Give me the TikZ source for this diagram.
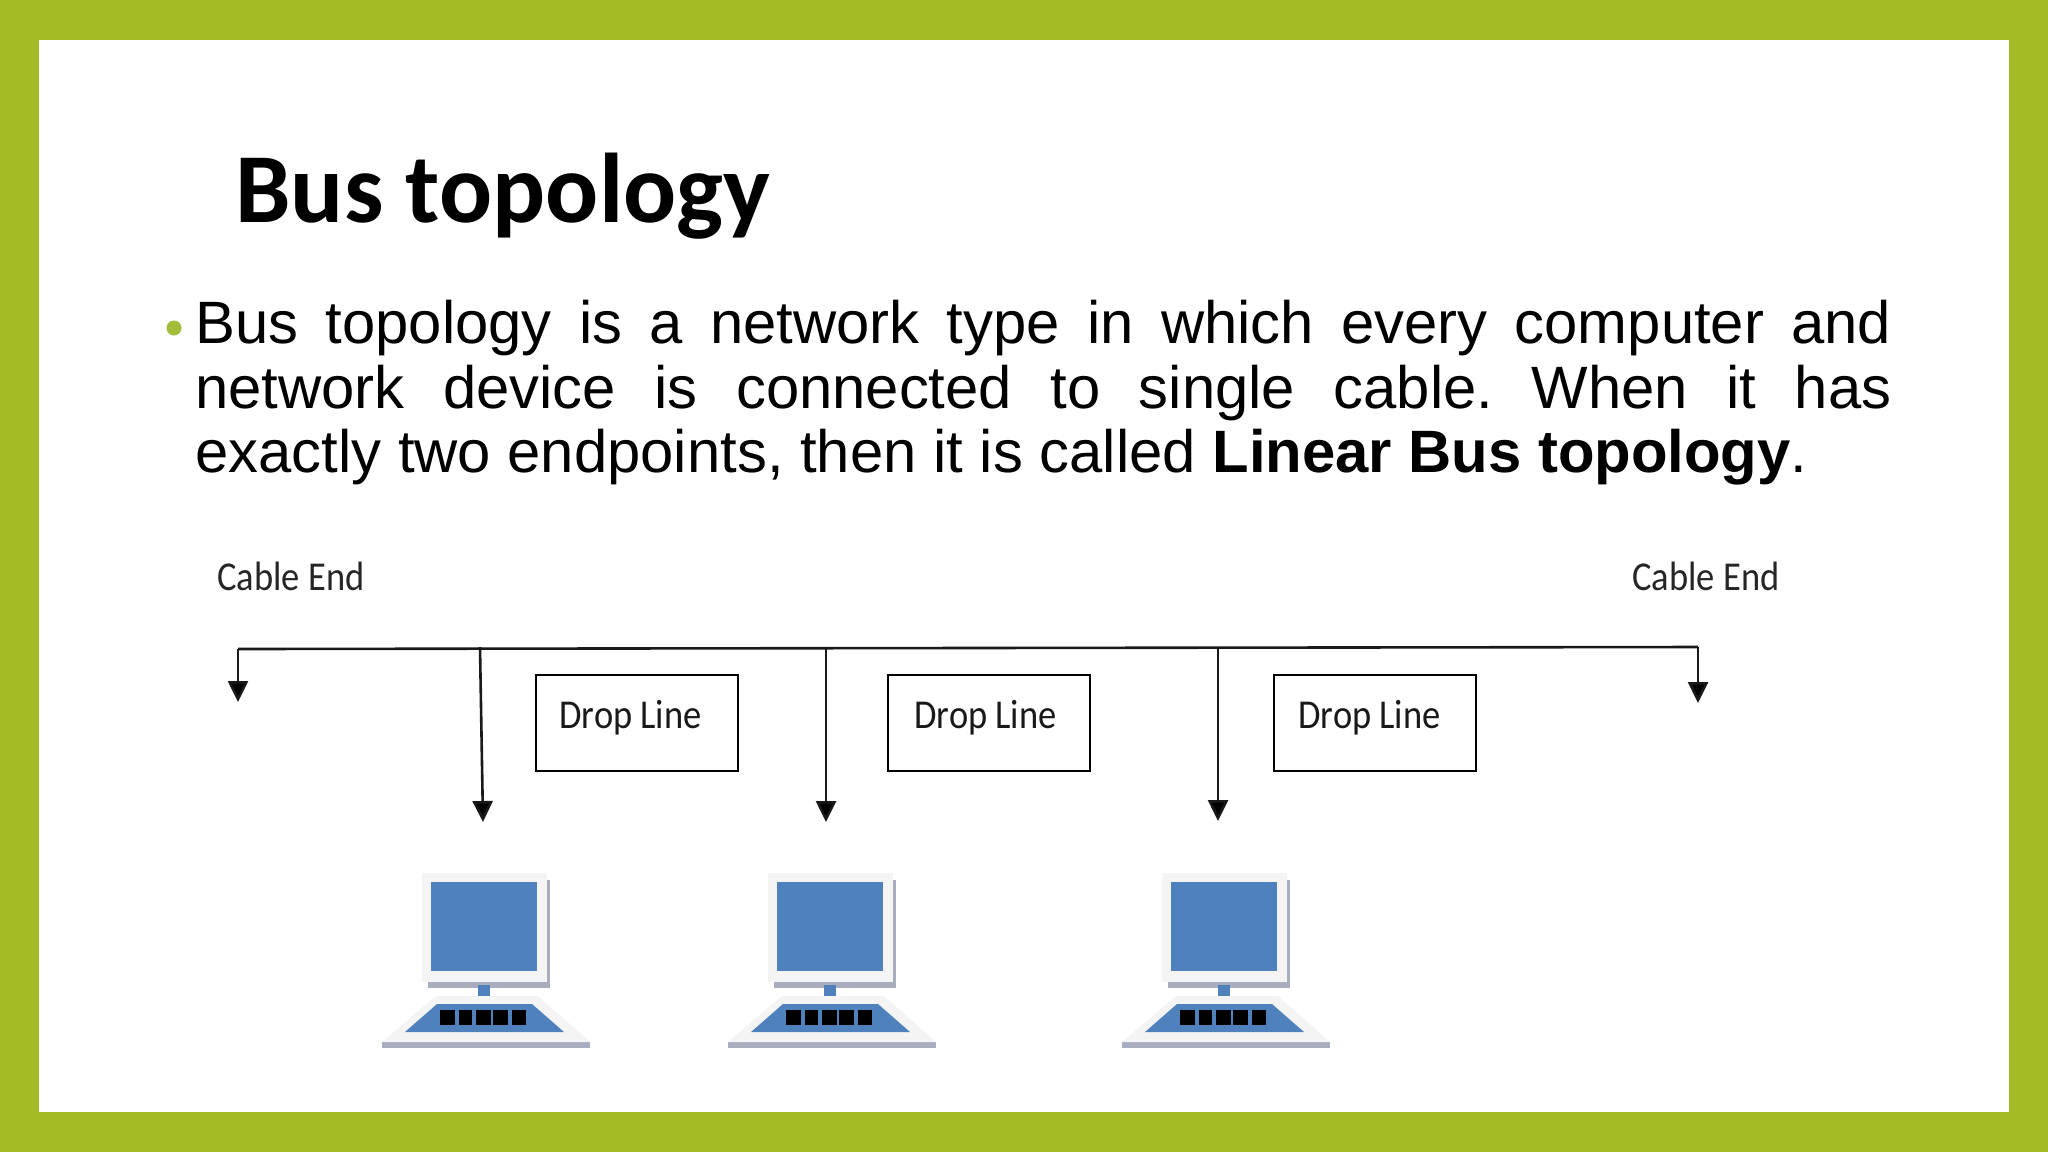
\documentclass[tikz,border=0pt]{standalone}
\usepackage{fontspec}
\setmainfont{Liberation Sans}
\newfontfamily\carl{Carlito}
\newfontfamily\carlc[FakeStretch=0.89]{Carlito}
\usetikzlibrary{arrows.meta}
\definecolor{framegreen}{HTML}{A6BA26}
\definecolor{bulletgreen}{HTML}{A2BD3C}
\definecolor{scrblue}{HTML}{4F81BD}
\definecolor{pcwhite}{HTML}{F4F4F4}
\definecolor{pcshade}{HTML}{A9AEBE}
\tikzset{
  cablelabel/.style={anchor=base west,inner sep=0pt,font=\carlc\fontsize{20.5}{24}\selectfont,text=black!85},
  dropbox/.style={draw=black,line width=1.2pt,anchor=north west,minimum width=101pt,minimum height=48pt,inner sep=0pt},
  droptext/.style={anchor=base west,inner sep=0pt,font=\carlc\fontsize{20.5}{24}\selectfont,text=black!90},
  busline/.style={line width=1.3pt,draw=black!90},
  droparrow/.style={line width=1.3pt,draw=black!90,-{Triangle[length=10.5pt,width=10pt,fill=black]}},
  pics/computer/.style={code={
    \fill[pcshade] (428,880) rectangle (550,988);
    \fill[pcwhite] (422,873) rectangle (547,982);
    \fill[scrblue] (431,882) rectangle (537,971);
    \fill[scrblue] (478,985) rectangle (490,1000);
    \fill[pcshade] (382,1042) rectangle (590,1048);
    \fill[pcwhite] (436,996) -- (538,996) -- (590,1042) -- (382,1042) -- cycle;
    \fill[scrblue] (437,1004) -- (532,1004) -- (564,1032) -- (405,1032) -- cycle;
    \fill[black] (440,1010) rectangle (455,1025);
    \fill[black] (459,1010) rectangle (472,1025);
    \fill[black] (476,1010) rectangle (491,1025);
    \fill[black] (493,1010) rectangle (508,1025);
    \fill[black] (512,1010) rectangle (526,1025);
  }}
}
\begin{document}
\begin{tikzpicture}[x=0.5pt,y=-0.5pt]
\useasboundingbox (0,0) rectangle (2048,1152);
\fill[framegreen] (0,0) rectangle (2048,1152);
\fill[white] (39,40) rectangle (2009,1112);
\node[anchor=base west,inner sep=0pt,font=\carl\bfseries\fontsize{49.5}{54}\selectfont,text=black] (title) at (235,222) {Bus topology};
\node[circle,fill=bulletgreen,inner sep=0pt,minimum size=7.5pt] (bullet) at (174,328) {};
\node[anchor=north west,inner sep=0pt,text width=848pt,font=\fontsize{29.9}{32.25}\selectfont,align=justify] (body) at (195,300)
 {\frenchspacing Bus topology is a network type in which every computer and\linebreak network device is connected to single cable. When it has\linebreak exactly two endpoints, then it is called \textbf{Linear Bus topology}.};
\node[cablelabel] (endl) at (217,590) {Cable End};
\node[cablelabel] (endr) at (1632,590) {Cable End};
\coordinate (busl) at (238,649);
\coordinate (busr) at (1698,647);
\coordinate (tipl) at (238,702);
\coordinate (tipr) at (1698,703);
\coordinate (d1t) at (480,647);
\coordinate (d1b) at (483,822);
\coordinate (d2t) at (826,648);
\coordinate (d2b) at (826,822);
\coordinate (d3t) at (1218,648);
\coordinate (d3b) at (1218,821);
\draw[busline] (busl) -- (busr);
\draw[droparrow] (busl) -- (tipl);
\draw[droparrow] (busr) -- (tipr);
\draw[droparrow] (d1t) -- (d1b);
\draw[droparrow] (d2t) -- (d2b);
\draw[droparrow] (d3t) -- (d3b);
\node[dropbox] (box1) at (535,674) {};
\node[dropbox] (box2) at (887,674) {};
\node[dropbox] (box3) at (1273,674) {};
\node[droptext] (t1) at (559,728) {Drop Line};
\node[droptext] (t2) at (914,728) {Drop Line};
\node[droptext] (t3) at (1298,728) {Drop Line};
\pic at (0,0) {computer};
\pic at (346,0) {computer};
\pic at (740,0) {computer};
\end{tikzpicture}
\end{document}
